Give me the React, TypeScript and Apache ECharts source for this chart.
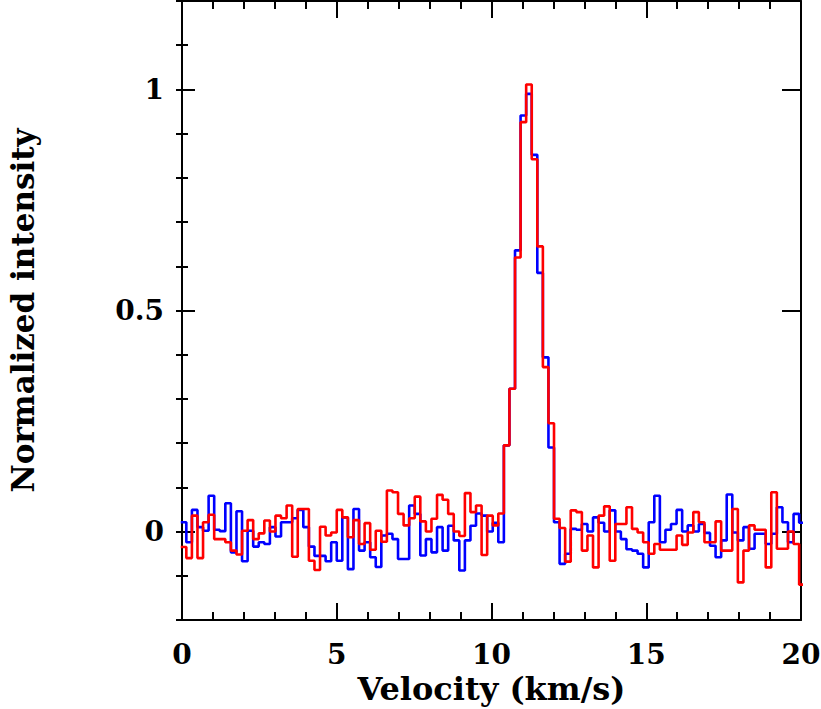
import React, { useEffect, useRef } from "react";
import * as echarts from "echarts";

// Spectral channels: left edge of the first channel and channel width (km/s)
const CHANNEL_START = -0.04;
const CHANNEL_WIDTH = 0.18;

const blueIntensity = [
  0.021, -0.024, 0.049, 0.01, 0.002, 0.081, 0.004, 0.001, 0.064, -0.047,
  0.046, -0.067, 0.002, -0.034, -0.024, -0.028, 0.01, -0.011, 0.021, 0.021,
  0.03, 0.049, 0.01, -0.034, -0.055, -0.055, -0.067, -0.024, -0.066, 0.032,
  -0.085, 0.051, -0.043, -0.024, -0.058, -0.08, -0.009, -0.005, -0.017, -0.062,
  -0.062, 0.059, 0.04, -0.054, -0.017, -0.047, 0.01, -0.043, 0.013, -0.02,
  -0.088, -0.02, 0.013, 0.041, 0.036, 0.0, 0.02, -0.024, 0.195, 0.323,
  0.636, 0.941, 0.99, 0.852, 0.585, 0.394, 0.19, 0.021, -0.073, -0.05,
  0.006, 0.004, 0.017, 0.0, 0.032, 0.02, 0.0, 0.048, 0.0, -0.017,
  -0.04, -0.043, -0.05, -0.081, 0.021, 0.081, -0.024, 0.004, 0.017, 0.049,
  0.0, 0.014, 0.0, 0.017, -0.003, -0.032, -0.058, -0.02, 0.084, -0.002,
  -0.02, 0.01, -0.039, -0.005, -0.005, -0.028, -0.005, 0.055, 0.021, -0.024,
  0.04, 0.02,
];

const redIntensity = [
  -0.035, -0.06, 0.036, -0.06, 0.021, 0.038, -0.017, -0.017, -0.024, -0.043,
  -0.052, 0.002, 0.026, -0.017, -0.004, 0.025, 0.0, 0.036, 0.03, 0.059,
  -0.057, 0.051, 0.051, -0.066, -0.087, 0.011, -0.009, -0.002, 0.049, 0.032,
  -0.013, 0.026, -0.028, 0.019, -0.041, 0.002, -0.023, 0.093, 0.089, 0.04,
  0.014, 0.03, 0.079, 0.023, 0.0, 0.029, 0.083, 0.072, 0.04, 0.0,
  -0.01, 0.087, 0.044, 0.059, -0.053, 0.036, 0.014, 0.041, 0.195, 0.323,
  0.62, 0.926, 1.011, 0.842, 0.645, 0.372, 0.245, 0.029, 0.008, -0.068,
  0.048, 0.044, -0.043, -0.009, -0.081, 0.036, 0.057, -0.066, 0.017, 0.017,
  0.055, 0.006, -0.002, -0.024, -0.05, -0.028, -0.041, -0.041, -0.041, -0.009,
  -0.03, -0.002, 0.044, 0.021, -0.024, -0.024, 0.023, -0.043, -0.043, 0.051,
  -0.115, -0.043, 0.014, 0.004, 0.004, -0.081, 0.089, -0.039, -0.039, 0.0,
  -0.028, -0.12,
];

const xMajorTicks = [0, 5, 10, 15, 20];
const yMajorTicks = [0, 0.5, 1];
const xLabel = "Velocity (km/s)";
const yLabel = "Normalized intensity";

function toSteps(values: number[]): number[][] {
  const pts = values.map((v, k) => [CHANNEL_START + k * CHANNEL_WIDTH, v]);
  pts.push([CHANNEL_START + values.length * CHANNEL_WIDTH, values[values.length - 1]]);
  return pts;
}

const FONT = "DejaVu Serif";

export default function App() {
  const ref = useRef<HTMLDivElement>(null);
  useEffect(() => {
    if (!ref.current) return;
    const chart = echarts.init(ref.current, undefined, { renderer: "svg" });
    const lineStyle = { color: "#000", width: 2 };
    const tickStyle = { color: "#000", width: 2 };
    const labelStyle = {
      color: "#000",
      fontFamily: FONT,
      fontWeight: "bold" as const,
      fontSize: 28,
    };
    const xBase = { type: "value" as const, min: 0, max: 20, splitLine: { show: false } };
    const yBase = { type: "value" as const, min: -0.2, max: 1.2, interval: 0.1, splitLine: { show: false } };
    chart.setOption({
      animation: false,
      backgroundColor: "#fff",
      grid: { left: 182, right: 20, top: 1, bottom: 89, containLabel: false, outerBoundsMode: "none" },
      xAxis: [
        {
          ...xBase,
          position: "bottom",
          interval: 5,
          axisLine: { show: true, onZero: false, lineStyle },
          axisTick: { show: true, inside: true, length: 17, lineStyle: tickStyle },
          minorTick: { show: true, splitNumber: 5, length: 8, lineStyle: tickStyle },
          axisLabel: { ...labelStyle, margin: 20, customValues: xMajorTicks },
          name: xLabel,
          nameLocation: "middle",
          nameGap: 50,
          nameTextStyle: { ...labelStyle, fontSize: 32 },
        },
        {
          ...xBase,
          position: "top",
          interval: 5,
          axisLine: { show: true, onZero: false, lineStyle },
          axisTick: { show: true, inside: true, length: 17, lineStyle: tickStyle },
          minorTick: { show: true, splitNumber: 5, length: 8, lineStyle: tickStyle },
          axisLabel: { show: false },
        },
      ],
      yAxis: [
        {
          ...yBase,
          position: "left",
          axisLine: { show: true, onZero: false, lineStyle },
          axisTick: { show: true, inside: true, length: 13, customValues: yMajorTicks, lineStyle: tickStyle },
          axisLabel: {
            ...labelStyle,
            margin: 18,
            customValues: yMajorTicks,
            formatter: (v: number) => String(Math.round(v * 10) / 10),
          },
          name: yLabel,
          nameLocation: "middle",
          nameGap: 144,
          nameTextStyle: { ...labelStyle, fontSize: 31, lineHeight: 31 },
        },
        {
          ...yBase,
          position: "left",
          axisLine: { show: false },
          axisTick: { show: true, inside: true, length: 6, lineStyle: tickStyle },
          axisLabel: { show: false },
        },
        {
          ...yBase,
          position: "right",
          axisLine: { show: true, onZero: false, lineStyle },
          axisTick: { show: true, inside: true, length: 19, customValues: yMajorTicks, lineStyle: tickStyle },
          axisLabel: { show: false },
        },
        {
          ...yBase,
          position: "right",
          axisLine: { show: false },
          axisTick: { show: true, inside: true, length: 6, lineStyle: tickStyle },
          axisLabel: { show: false },
        },
      ],
      series: [
        {
          type: "line",
          name: "blue",
          xAxisIndex: 0,
          yAxisIndex: 0,
          step: "end",
          symbol: "none",
          clip: true,
          lineStyle: { color: "#0000ff", width: 2.6 },
          data: toSteps(blueIntensity),
        },
        {
          type: "line",
          name: "red",
          xAxisIndex: 0,
          yAxisIndex: 0,
          step: "end",
          symbol: "none",
          clip: true,
          lineStyle: { color: "#ff0000", width: 2.6 },
          data: toSteps(redIntensity),
        },
      ],
    });
    return () => chart.dispose();
  }, []);
  return (
    <div
      ref={ref}
      style={{ position: "absolute", left: 0, top: 0, width: 821, height: 709, background: "#fff" }}
    />
  );
}
